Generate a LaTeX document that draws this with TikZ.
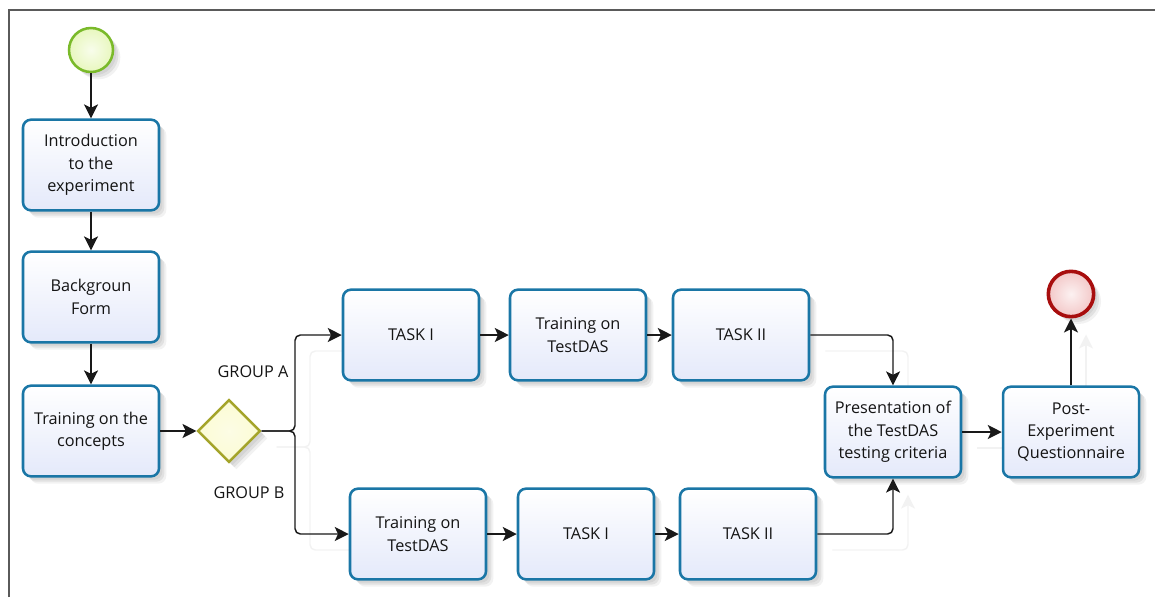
\documentclass[tikz,border=0pt]{standalone}
\usepackage{fontspec}
\setmainfont{Open Sans}
\usetikzlibrary{arrows.meta,shapes.geometric,shadows,backgrounds}

\definecolor{taskline}{RGB}{26,118,166}
\definecolor{taskfill}{RGB}{228,233,250}
\definecolor{startline}{RGB}{122,186,42}
\definecolor{startfill}{RGB}{232,247,190}
\definecolor{endline}{RGB}{168,14,14}
\definecolor{endfill}{RGB}{243,200,200}
\definecolor{gateline}{RGB}{164,164,42}
\definecolor{gatefill}{RGB}{251,251,212}
\definecolor{frameline}{RGB}{90,90,90}

\tikzset{
  softshadow/.style={
    drop shadow={shadow xshift=5.5pt,shadow yshift=-5.5pt,opacity=0.05,fill=black},
    drop shadow={shadow xshift=4pt,shadow yshift=-4pt,opacity=0.07,fill=black},
    drop shadow={shadow xshift=2.5pt,shadow yshift=-2.5pt,opacity=0.06,fill=black}},
  labelfont/.style={font=\fontsize{12.2}{16.8}\selectfont, text=black!92},
  task/.style={rectangle, rounded corners=6pt, draw=taskline, line width=1.9pt,
    top color=white, bottom color=taskfill, minimum width=102pt,
    minimum height=68pt, align=center, inner sep=2pt, labelfont, softshadow},
  startevent/.style={circle, draw=startline, line width=1.9pt, inner sep=0pt,
    minimum size=33pt, inner color=white!70!startfill, outer color=startfill, softshadow},
  endevent/.style={circle, draw=endline, line width=2.7pt, inner sep=0pt,
    minimum size=34pt, inner color=white!75!endfill, outer color=endfill, softshadow},
  gateway/.style={diamond, draw=gateline, line width=1.8pt, inner sep=0pt,
    minimum size=47pt, inner color=white!40!gatefill, outer color=gatefill, softshadow},
  flow/.style={draw=black!90, line width=1.1pt, rounded corners=4pt,
    -{Stealth[length=10.5pt,width=10.5pt,inset=2.5pt]}},
  ghost/.style={draw=black!5, line width=1.1pt, rounded corners=4pt,
    -{Stealth[length=10.5pt,width=10.5pt,inset=2.5pt]}},
  grouplabel/.style={labelfont, inner sep=0pt}
}

\begin{document}
\begin{tikzpicture}[x=0.75pt,y=-0.75pt]
\useasboundingbox (0,0) rectangle (1155,597);

% frame of the drawing sheet
\draw[frameline, line width=1.5pt] (9,597) -- (9,10) -- (1155,10);

% events and gateway
\node[startevent] (start) at (91,50) {};
\node[endevent] (finish) at (1071,294) {};
\node[gateway] (gate) at (229,431) {};

% activities, left column
\node[task] (intro) at (91,165) {Introduction\\to the\\experiment};
\node[task] (bform) at (91,297) {Backgroun\\Form};
\node[task] (concepts) at (91,431) {Training on the\\concepts};

% group A branch
\node[task] (taskIa) at (411,335) {TASK I};
\node[task] (trainA) at (578,335) {Training on\\TestDAS};
\node[task] (taskIIa) at (741,335) {TASK II};

% group B branch
\node[task] (trainB) at (418,534) {Training on\\TestDAS};
\node[task] (taskIb) at (586,534) {TASK I};
\node[task] (taskIIb) at (748,534) {TASK II};

% closing activities
\node[task] (present) at (893,432) {Presentation of\\the TestDAS\\testing criteria};
\node[task] (post) at (1071,432) {Post-\\Experiment\\Questionnaire};

% branch labels
\node[grouplabel] (labA) at (253,372) {GROUP A};
\node[grouplabel] (labB) at (249,493) {GROUP B};

% split point of the two groups
\coordinate (split) at (295,431);

% faint echo of the sequence flows
\begin{pgfonlayer}{background}
\begin{scope}[transform canvas={shift={(15,16)}}]
  \draw[ghost] (gate.east) -- (split) -- (split |- taskIa.west) -- (taskIa.west);
  \draw[ghost] (gate.east) -- (split) -- (split |- trainB.west) -- (trainB.west);
  \draw[ghost] (taskIIa.east) -- (present.north |- taskIIa.east) -- (present.north);
  \draw[ghost] (taskIIb.east) -- (present.south |- taskIIb.east) -- (present.south);
  \draw[ghost] (post.north) -- (finish.south);
  \draw[ghost] (present.east) -- (post.west);
\end{scope}
\end{pgfonlayer}

% sequence flows
\draw[flow] (start) -- (intro);
\draw[flow] (intro) -- (bform);
\draw[flow] (bform) -- (concepts);
\draw[flow] (concepts) -- (gate);
\draw[flow] (gate.east) -- (split) -- (split |- taskIa.west) -- (taskIa.west);
\draw[flow] (gate.east) -- (split) -- (split |- trainB.west) -- (trainB.west);
\draw[flow] (taskIa) -- (trainA);
\draw[flow] (trainA) -- (taskIIa);
\draw[flow] (trainB) -- (taskIb);
\draw[flow] (taskIb) -- (taskIIb);
\draw[flow] (taskIIa.east) -- (present.north |- taskIIa.east) -- (present.north);
\draw[flow] (taskIIb.east) -- (present.south |- taskIIb.east) -- (present.south);
\draw[flow] (present) -- (post);
\draw[flow] (post) -- (finish);
\end{tikzpicture}
\end{document}
